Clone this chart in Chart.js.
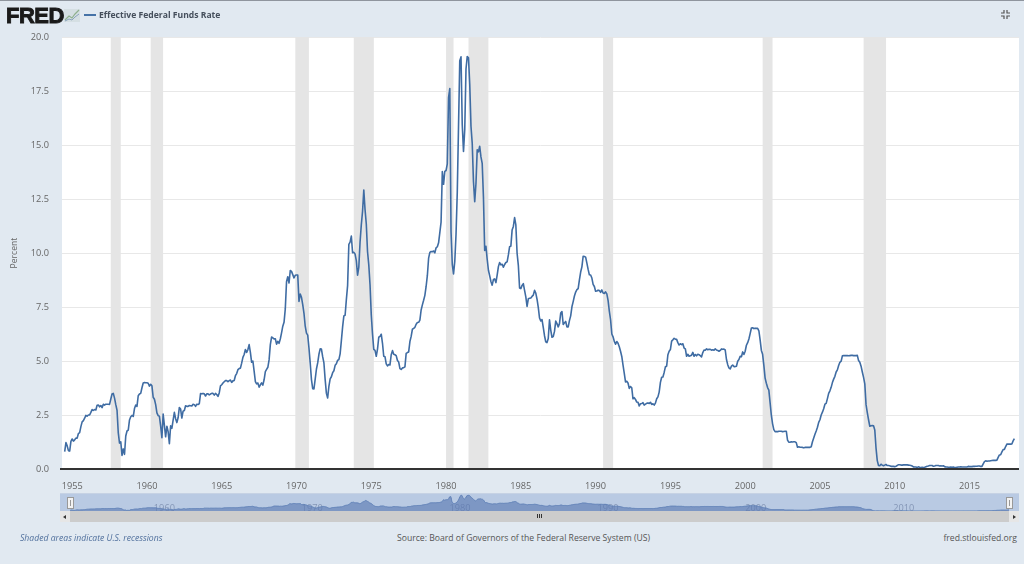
<!DOCTYPE html>
<html>
<head>
<meta charset="utf-8">
<script src="https://cdn.jsdelivr.net/npm/chart.js@4/dist/chart.umd.min.js"></script>
<style>
  html, body { margin: 0; padding: 0; background: #e1e9f1; }
  body { position: relative; width: 1024px; height: 564px; overflow: hidden; font-family: "Open Sans", sans-serif; }
  canvas { position: absolute; display: block; }
  #topLine { position: absolute; left: 0; top: 0; width: 1024px; height: 1px; background: #8f959e; }
  #logo { position: absolute; left: 6px; top: 3px; font: 900 22px/26px "Liberation Sans", sans-serif; color: #1a1a1a; letter-spacing: -0.5px; -webkit-text-stroke: 0.9px #1a1a1a; }
  #logoIcon { position: absolute; left: 64px; top: 8px; }
  #legendLine { position: absolute; left: 84px; top: 14px; width: 12px; height: 2px; background: #4572a7; }
  #legendText { position: absolute; left: 99px; top: 8px; font: 700 8.6px/15px "Open Sans", sans-serif; color: #454f5c; }
  #fullIcon { position: absolute; left: 1001px; top: 10px; }
  #navChart { background: #b9cae3; }
  #navBorder { position: absolute; left: 60px; top: 493px; width: 959px; height: 1px; background: #c6d2e4; }
  #bar { position: absolute; left: 60px; top: 511px; width: 959px; height: 11px; background: #cccccc; }
  .btn { position: absolute; top: 511px; width: 10px; height: 11px; background: #e6e6e6; }
  .arrow { position: absolute; top: 4px; left: 3px; width: 0; height: 0; border-top: 2px solid transparent; border-bottom: 2px solid transparent; }
  .grip { position: absolute; top: 3px; width: 1px; height: 4px; background: #333; }
  .handle { position: absolute; top: 497px; width: 5px; height: 10px; background: #f2f2f2; border: 1px solid #999; }
  .handle i { position: absolute; left: 2px; top: 2px; width: 1px; height: 6px; background: #999; }
  .foot { position: absolute; top: 531px; font-size: 8.65px; line-height: 15px; color: #555; white-space: nowrap; }
</style>
</head>
<body>
<div id="topLine"></div>
<canvas id="mainChart" width="1024" height="492" style="left:0;top:0;width:1024px;height:492px"></canvas>
<div id="logo">FRED</div>
<svg id="logoIcon" width="17" height="15" viewBox="0 0 17 15">
  <rect x="0" y="1" width="16" height="13" fill="#d5dfe3"/>
  <polyline points="1,12 5,8 8,10 11,6 15,2" fill="none" stroke="#8fb08f" stroke-width="1.2"/>
  <polyline points="1,13 5,11 8,12 11,9 15,6" fill="none" stroke="#8aa3bd" stroke-width="1"/>
</svg>
<div id="legendLine"></div>
<div id="legendText">Effective Federal Funds Rate</div>
<svg id="fullIcon" width="9" height="9" viewBox="0 0 9 9" fill="none" stroke="#555" stroke-width="1.2">
  <polyline points="3,0 3,3 0,3"/>
  <polyline points="6,0 6,3 9,3"/>
  <polyline points="3,9 3,6 0,6"/>
  <polyline points="6,9 6,6 9,6"/>
</svg>
<canvas id="navChart" width="959" height="18" style="left:60px;top:493px;width:959px;height:18px"></canvas>
<div id="navBorder"></div>
<div id="bar">
  <div class="grip" style="left:477px"></div>
  <div class="grip" style="left:479px"></div>
  <div class="grip" style="left:481px"></div>
</div>
<div class="btn" style="left:60px"><div class="arrow" style="border-right:3px solid #333"></div></div>
<div class="btn" style="left:1009px"><div class="arrow" style="border-left:3px solid #333;left:4px"></div></div>
<div class="handle" style="left:67px"><i></i></div>
<div class="handle" style="left:1006px"><i></i></div>
<div class="foot" style="left:20px;font-style:italic;color:#4f6f9c">Shaded areas indicate U.S. recessions</div>
<div class="foot" style="left:397px">Source: Board of Governors of the Federal Reserve System (US)</div>
<div class="foot" style="right:7px">fred.stlouisfed.org</div>

<script>
//  DATA
var seriesName = "Effective Federal Funds Rate";
var yTicks = [0, 2.5, 5, 7.5, 10, 12.5, 15, 17.5, 20];
var xTickYears = [1955, 1960, 1965, 1970, 1975, 1980, 1985, 1990, 1995, 2000, 2005, 2010, 2015];
var navTickYears = [1960, 1970, 1980, 1990, 2000, 2010];

// recessions, start and end as decimal years
var recessionStart = [1957.58, 1960.25, 1969.92, 1973.83, 1980.0, 1981.5, 1990.5, 2001.17, 2007.92];
var recessionEnd = [1958.25, 1961.08, 1970.83, 1975.17, 1980.5, 1982.83, 1991.17, 2001.83, 2009.42];

// monthly values, first one is July 1954
var firstYear = 1954.5;
var rates = [
  0.80, 1.22, 1.07, 0.85, 0.83, 1.28,
  1.39, 1.29, 1.35, 1.43, 1.43, 1.64, 1.68, 1.96, 2.18, 2.24, 2.35, 2.48,
  2.45, 2.50, 2.50, 2.62, 2.75, 2.71, 2.75, 2.73, 2.95, 2.96, 2.88, 2.94,
  2.84, 3.00, 2.96, 3.00, 3.00, 3.00, 2.99, 3.24, 3.47, 3.50, 3.28, 2.98,
  2.72, 1.67, 1.20, 1.26, 0.63, 0.93, 0.68, 1.53, 1.76, 1.80, 2.27, 2.42,
  2.48, 2.43, 2.80, 2.96, 2.90, 3.39, 3.47, 3.50, 3.76, 3.98, 4.00, 3.99,
  3.99, 3.97, 3.84, 3.92, 3.85, 3.32, 3.23, 2.98, 2.60, 2.47, 2.44, 1.98,
  1.45, 2.54, 2.02, 1.49, 1.98, 1.73, 1.17, 2.00, 1.88, 2.26, 2.62, 2.33,
  2.15, 2.37, 2.85, 2.78, 2.36, 2.68, 2.71, 2.93, 2.90, 2.90, 2.94, 2.93,
  2.92, 3.00, 2.98, 2.90, 3.00, 2.99, 3.02, 3.49, 3.48, 3.50, 3.48, 3.38,
  3.48, 3.48, 3.43, 3.47, 3.50, 3.50, 3.42, 3.50, 3.45, 3.36, 3.52, 3.85,
  3.90, 3.98, 4.04, 4.09, 4.10, 4.04, 4.09, 4.12, 4.01, 4.08, 4.10, 4.32,
  4.42, 4.60, 4.65, 4.67, 4.90, 5.17, 5.30, 5.53, 5.40, 5.53, 5.76, 5.40,
  4.94, 5.00, 4.53, 4.05, 3.94, 3.98, 3.79, 3.90, 3.99, 3.88, 4.13, 4.51,
  4.61, 4.71, 5.05, 5.76, 6.11, 6.07, 6.02, 6.03, 5.78, 5.91, 5.82, 6.02,
  6.30, 6.61, 6.79, 7.41, 8.67, 8.90, 8.61, 9.19, 9.15, 9.00, 8.85, 8.97,
  8.98, 8.98, 7.76, 8.10, 7.95, 7.61, 7.21, 6.61, 6.29, 6.20, 5.60, 4.90,
  4.14, 3.72, 3.71, 4.16, 4.63, 4.91, 5.31, 5.56, 5.55, 5.20, 4.91, 4.14,
  3.50, 3.29, 3.83, 4.17, 4.27, 4.46, 4.55, 4.80, 4.87, 5.04, 5.06, 5.33,
  5.94, 6.58, 7.09, 7.12, 7.84, 8.49, 10.40, 10.50, 10.78, 10.01, 10.03, 9.95,
  9.65, 8.97, 9.35, 10.51, 11.31, 11.93, 12.92, 12.01, 11.34, 10.06, 9.45, 8.53,
  7.13, 6.24, 5.54, 5.49, 5.22, 5.55, 6.10, 6.14, 6.24, 5.82, 5.22, 5.20,
  4.87, 4.77, 4.84, 4.82, 5.29, 5.48, 5.31, 5.29, 5.25, 5.02, 4.95, 4.65,
  4.61, 4.68, 4.69, 4.73, 5.35, 5.39, 5.42, 5.90, 6.14, 6.47, 6.51, 6.56,
  6.70, 6.78, 6.79, 6.89, 7.36, 7.60, 7.81, 8.04, 8.45, 8.96, 9.76, 10.03,
  10.07, 10.06, 10.09, 10.01, 10.24, 10.29, 10.47, 10.94, 11.43, 13.77, 13.18, 13.78,
  13.82, 14.13, 17.19, 17.61, 10.98, 9.47, 9.03, 9.61, 10.87, 12.81, 15.85, 18.90,
  19.08, 15.93, 14.70, 15.72, 18.52, 19.10, 19.04, 17.82, 15.87, 15.08, 13.31, 12.37,
  13.22, 14.78, 14.68, 14.94, 14.45, 14.15, 12.59, 10.12, 10.31, 9.71, 9.20, 8.95,
  8.68, 8.51, 8.77, 8.80, 8.63, 8.98, 9.37, 9.56, 9.45, 9.48, 9.34, 9.47,
  9.56, 9.59, 9.91, 10.29, 10.32, 11.06, 11.23, 11.64, 11.30, 9.99, 9.43, 8.38,
  8.35, 8.50, 8.58, 8.27, 7.97, 7.53, 7.88, 7.90, 7.92, 7.99, 8.05, 8.27,
  8.14, 7.86, 7.48, 6.99, 6.85, 6.92, 6.56, 6.17, 5.89, 5.85, 6.04, 6.91,
  6.43, 6.10, 6.13, 6.37, 6.85, 6.73, 6.58, 6.73, 7.22, 7.29, 6.69, 6.77,
  6.83, 6.58, 6.58, 6.87, 7.09, 7.51, 7.75, 8.01, 8.19, 8.30, 8.35, 8.76,
  9.12, 9.36, 9.85, 9.84, 9.81, 9.53, 9.24, 8.99, 8.98, 8.84, 8.55, 8.45,
  8.23, 8.24, 8.28, 8.26, 8.18, 8.29, 8.15, 8.13, 8.20, 8.11, 7.81, 7.31,
  6.91, 6.25, 6.12, 5.91, 5.78, 5.90, 5.82, 5.66, 5.45, 5.21, 4.81, 4.43,
  4.03, 4.06, 3.98, 3.73, 3.82, 3.76, 3.25, 3.30, 3.22, 3.10, 3.09, 2.92,
  3.02, 3.03, 3.07, 2.96, 3.00, 3.04, 3.06, 3.03, 3.09, 2.99, 3.02, 2.96,
  3.05, 3.25, 3.34, 3.56, 4.01, 4.25, 4.26, 4.47, 4.73, 4.76, 5.29, 5.45,
  5.53, 5.92, 5.98, 6.05, 6.01, 6.00, 5.85, 5.74, 5.80, 5.76, 5.80, 5.60,
  5.56, 5.22, 5.31, 5.22, 5.24, 5.27, 5.40, 5.22, 5.30, 5.24, 5.31, 5.29,
  5.25, 5.19, 5.39, 5.51, 5.50, 5.56, 5.52, 5.54, 5.54, 5.50, 5.52, 5.50,
  5.56, 5.51, 5.49, 5.45, 5.49, 5.56, 5.54, 5.55, 5.51, 5.07, 4.83, 4.68,
  4.63, 4.76, 4.81, 4.74, 4.74, 4.76, 4.99, 5.07, 5.22, 5.20, 5.42, 5.30,
  5.45, 5.73, 5.85, 6.02, 6.27, 6.53, 6.54, 6.50, 6.52, 6.51, 6.51, 6.40,
  5.98, 5.49, 5.31, 4.80, 4.21, 3.97, 3.77, 3.65, 3.07, 2.49, 2.09, 1.82,
  1.73, 1.74, 1.73, 1.75, 1.75, 1.75, 1.73, 1.74, 1.75, 1.75, 1.34, 1.24,
  1.24, 1.26, 1.25, 1.26, 1.26, 1.22, 1.01, 1.03, 1.01, 1.01, 1.00, 0.98,
  1.00, 1.01, 1.00, 1.00, 1.00, 1.03, 1.26, 1.43, 1.61, 1.76, 1.93, 2.16,
  2.28, 2.50, 2.63, 2.79, 3.00, 3.04, 3.26, 3.50, 3.62, 3.78, 4.00, 4.16,
  4.29, 4.49, 4.59, 4.79, 4.94, 4.99, 5.24, 5.25, 5.25, 5.25, 5.25, 5.24,
  5.25, 5.26, 5.26, 5.25, 5.25, 5.25, 5.26, 5.02, 4.94, 4.76, 4.49, 4.24,
  3.94, 2.98, 2.61, 2.28, 1.98, 2.00, 2.01, 2.00, 1.81, 0.97, 0.39, 0.16,
  0.15, 0.22, 0.18, 0.15, 0.18, 0.21, 0.16, 0.16, 0.15, 0.12, 0.12, 0.12,
  0.11, 0.13, 0.16, 0.20, 0.20, 0.18, 0.18, 0.19, 0.19, 0.19, 0.19, 0.18,
  0.17, 0.16, 0.14, 0.10, 0.09, 0.09, 0.07, 0.10, 0.08, 0.07, 0.08, 0.07,
  0.08, 0.10, 0.13, 0.14, 0.16, 0.16, 0.16, 0.13, 0.14, 0.16, 0.16, 0.16,
  0.14, 0.15, 0.14, 0.15, 0.11, 0.09, 0.09, 0.08, 0.08, 0.09, 0.08, 0.09,
  0.07, 0.07, 0.08, 0.09, 0.09, 0.10, 0.09, 0.09, 0.09, 0.09, 0.09, 0.12,
  0.11, 0.11, 0.11, 0.12, 0.12, 0.13, 0.13, 0.14, 0.14, 0.12, 0.12, 0.24,
  0.34, 0.38, 0.36, 0.37, 0.37, 0.38, 0.39, 0.40, 0.40, 0.40, 0.41, 0.54,
  0.65, 0.66, 0.79, 0.90, 0.91, 1.04, 1.15, 1.16, 1.15, 1.15, 1.16, 1.30,
  1.41
];

//  HELPERS
function makePoints() {
  var pts = [];
  for (var i = 0; i < rates.length; i++) {
    pts.push({ x: firstYear + i / 12, y: rates[i] });
  }
  return pts;
}

// white plot area, then recession bands above the grid
var plotBack = {
  id: "plotBack",
  beforeDraw: function (chart) {
    var a = chart.chartArea;
    chart.ctx.fillStyle = "#ffffff";
    chart.ctx.fillRect(a.left, a.top, a.width, a.height);
  },
  beforeDatasetsDraw: function (chart) {
    var a = chart.chartArea;
    var x = chart.scales.x;
    chart.ctx.fillStyle = "#e5e5e5";
    for (var i = 0; i < recessionStart.length; i++) {
      var x1 = x.getPixelForValue(recessionStart[i]);
      var x2 = x.getPixelForValue(recessionEnd[i]);
      chart.ctx.fillRect(x1, a.top, x2 - x1, a.height);
    }
  },
  afterDatasetsDraw: function (chart) {
    // axis line sticks out a bit on the left
    var a = chart.chartArea;
    chart.ctx.fillStyle = "#333333";
    chart.ctx.fillRect(a.left - 2, a.bottom - 1, a.width + 2, 2);
  },
};

//  MAIN CHART
new Chart(document.getElementById("mainChart"), {
  type: "line",
  data: {
    datasets: [{
      label: seriesName,
      data: makePoints(),
      borderColor: "#3f6ca3",
      borderWidth: 1.6,
      pointRadius: 0,
      tension: 0,
      borderJoinStyle: "round",
    }],
  },
  options: {
    responsive: false,
    animation: false,
    devicePixelRatio: 1,
    layout: { padding: { top: 37, right: 5, left: 0, bottom: 0 } },
    plugins: { legend: { display: false }, tooltip: { enabled: false } },
    scales: {
      x: {
        type: "linear",
        min: 1954.32,
        max: 2018.31,
        afterFit: function (s) { s.height = 23; },
        afterBuildTicks: function (s) {
          s.ticks = xTickYears.map(function (v) { return { value: v }; });
        },
        border: { display: false },
        grid: { display: false },
        ticks: {
          autoSkip: false,
          maxRotation: 0,
          padding: 4,
          color: "#666666",
          font: { family: "Open Sans", size: 9.2 },
          callback: function (v) { return String(v); },
        },
      },
      y: {
        min: 0,
        max: 20,
        afterFit: function (s) { s.width = 62; },
        afterBuildTicks: function (s) {
          s.ticks = yTicks.map(function (v) { return { value: v }; });
        },
        border: { display: false },
        grid: { color: "#e8e8e8", lineWidth: 1, drawTicks: false },
        title: {
          display: true,
          text: "Percent",
          color: "#666666",
          font: { family: "Open Sans", size: 8.6 },
          padding: { top: 9, bottom: 0 },
        },
        ticks: {
          padding: 13,
          color: "#666666",
          font: { family: "Open Sans", size: 9.2 },
          callback: function (v) { return v.toFixed(1); },
        },
      },
    },
  },
  plugins: [plotBack],
});

//  NAVIGATOR
new Chart(document.getElementById("navChart"), {
  type: "line",
  data: {
    datasets: [{
      data: makePoints(),
      borderColor: "#5f80b6",
      borderWidth: 1,
      backgroundColor: "rgba(88,120,178,0.62)",
      fill: "origin",
      pointRadius: 0,
      tension: 0.2,
    }],
  },
  options: {
    responsive: false,
    animation: false,
    devicePixelRatio: 1,
    layout: { padding: 0 },
    plugins: { legend: { display: false }, tooltip: { enabled: false } },
    scales: {
      x: {
        type: "linear",
        min: 1953.82,
        max: 2018.68,
        afterFit: function (s) { s.height = 0; },
        afterBuildTicks: function (s) {
          s.ticks = navTickYears.map(function (v) { return { value: v }; });
        },
        border: { display: false },
        grid: { display: false },
        ticks: {
          autoSkip: false,
          maxRotation: 0,
          mirror: true,
          padding: -3,
          labelOffset: 13,
          color: "#8496b6",
          font: { family: "Open Sans", size: 9.2 },
          callback: function (v) { return String(v); },
        },
      },
      y: { display: false, min: 0, max: 22 },
    },
  },
});
</script>
</body>
</html>
